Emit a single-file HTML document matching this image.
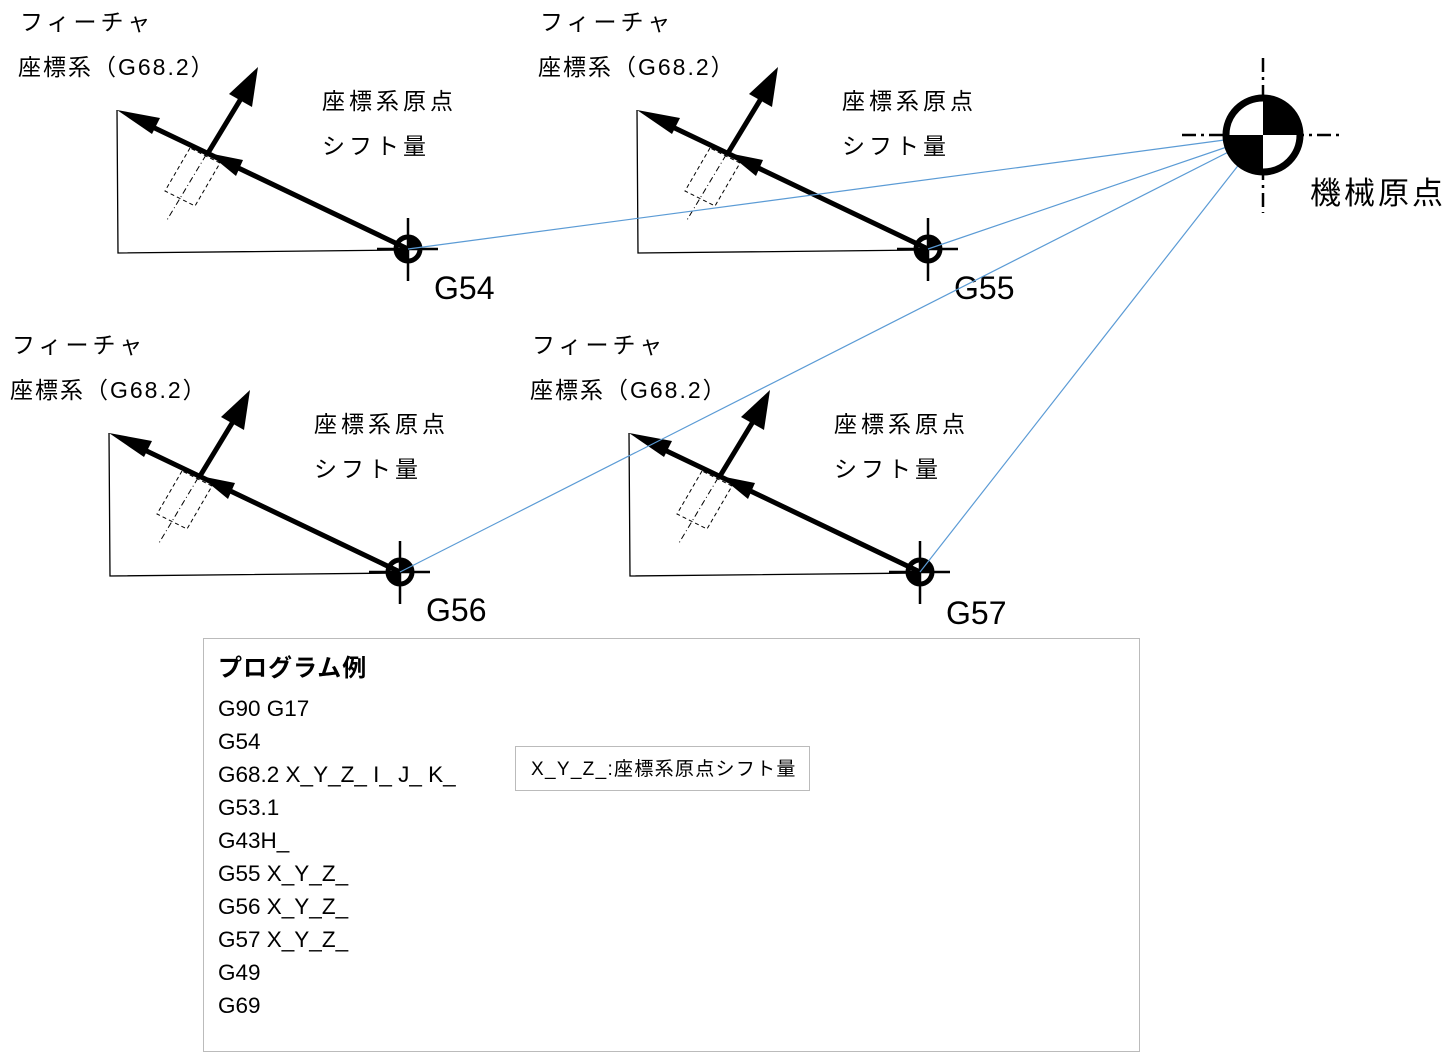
<!DOCTYPE html>
<html><head><meta charset="utf-8"><style>
html,body{margin:0;padding:0;background:#fff;width:1453px;height:1061px;overflow:hidden}
svg{display:block}
text{font-family:"Liberation Sans","Noto Sans CJK JP",sans-serif;fill:#000}
.j{font-size:23px;letter-spacing:4px}
.k{font-size:23px;letter-spacing:2px}
.g{font-size:32px}
.p{font-size:22.5px}
</style></head><body>
<svg width="1453" height="1061" viewBox="0 0 1453 1061" xmlns="http://www.w3.org/2000/svg">
<defs>
<g id="unit">
  <polyline points="117,110 118,253 408,250" fill="none" stroke="#000" stroke-width="1.3"/>
  <polygon points="190,148 165,191 195,206 220,163" fill="none" stroke="#000" stroke-width="1" stroke-dasharray="4,3"/>
  <line x1="206" y1="155" x2="167" y2="220" stroke="#000" stroke-width="1" stroke-dasharray="6,3,1,3"/>
  <line x1="408" y1="249" x2="140" y2="121" stroke="#000" stroke-width="5"/>
  <polygon points="117,110 160,118 152,134" fill="#000"/>
  <polygon points="208,153 243,160 236,176" fill="#000"/>
  <line x1="208" y1="153" x2="245" y2="92" stroke="#000" stroke-width="5"/>
  <polygon points="258,67 252,107 229,94" fill="#000"/>
  <line x1="408" y1="218" x2="408" y2="281" stroke="#000" stroke-width="2.5"/>
  <line x1="377" y1="249" x2="438" y2="249" stroke="#000" stroke-width="2.5"/>
  <circle cx="408" cy="249" r="12" fill="none" stroke="#000" stroke-width="5"/>
  <path d="M408,249 L408,237 A12,12 0 0 1 420,249 Z" fill="#000"/>
  <path d="M408,249 L408,261 A12,12 0 0 1 396,249 Z" fill="#000"/>
  <text x="20" y="30" class="j">フィーチャ</text>
  <text x="18" y="75" class="k">座標系（G68.2）</text>
  <text x="322" y="109" class="j">座標系原点</text>
  <text x="322" y="154" class="j">シフト量</text>
</g>
</defs>
<use href="#unit"/>
<use href="#unit" transform="translate(520,0)"/>
<use href="#unit" transform="translate(-8,323)"/>
<use href="#unit" transform="translate(512,323)"/>
<text x="434" y="299" class="g">G54</text>
<text x="954" y="299" class="g">G55</text>
<text x="426" y="621" class="g">G56</text>
<text x="946" y="624" class="g">G57</text>
<g stroke="#5b9bd5" stroke-width="1.2">
  <line x1="1262" y1="135" x2="408" y2="249"/>
  <line x1="1262" y1="135" x2="928" y2="249"/>
  <line x1="1262" y1="135" x2="400" y2="572"/>
  <line x1="1262" y1="135" x2="920" y2="572"/>
</g>
<line x1="1263" y1="58" x2="1263" y2="213" stroke="#000" stroke-width="2.5" stroke-dasharray="14,5,3,5"/>
<line x1="1182" y1="135" x2="1340" y2="135" stroke="#000" stroke-width="2.5" stroke-dasharray="14,5,3,5"/>
<circle cx="1263" cy="135" r="37" fill="#fff" stroke="#000" stroke-width="7"/>
<path d="M1263,135 L1263,98 A37,37 0 0 1 1300,135 Z" fill="#000"/>
<path d="M1263,135 L1263,172 A37,37 0 0 1 1226,135 Z" fill="#000"/>
<text x="1310" y="204" style="font-size:31px;letter-spacing:3px">機械原点</text>
<rect x="203.5" y="638.5" width="936" height="413" fill="none" stroke="#bbb" stroke-width="1"/>
<text x="218" y="676" style="font-size:24px;font-weight:bold;letter-spacing:1px">プログラム例</text>
<text x="218" y="716" class="p">G90 G17</text>
<text x="218" y="749" class="p">G54</text>
<text x="218" y="782" class="p">G68.2 X_Y_Z_ I_ J_ K_</text>
<text x="218" y="815" class="p">G53.1</text>
<text x="218" y="848" class="p">G43H_</text>
<text x="218" y="881" class="p">G55 X_Y_Z_</text>
<text x="218" y="914" class="p">G56 X_Y_Z_</text>
<text x="218" y="947" class="p">G57 X_Y_Z_</text>
<text x="218" y="980" class="p">G49</text>
<text x="218" y="1013" class="p">G69</text>
<rect x="515.5" y="746.5" width="294" height="44" fill="none" stroke="#bbb" stroke-width="1"/>
<text x="531" y="775" style="font-size:19px;letter-spacing:1.3px">X_Y_Z_:座標系原点シフト量</text>
</svg>
</body></html>
